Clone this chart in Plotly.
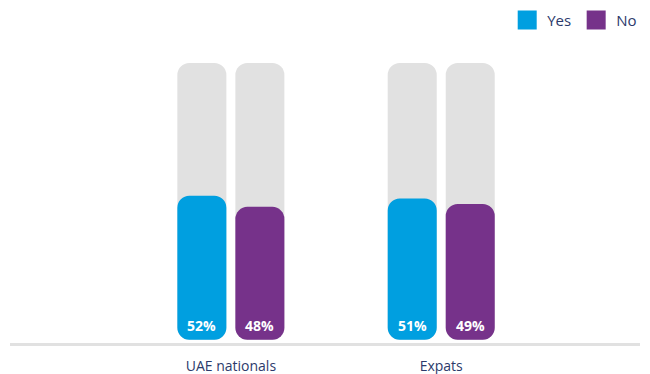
import plotly.graph_objects as go

groups = ["UAE nationals", "Expats"]
yes_pct = [52, 51]
no_pct = [48, 49]
full_scale = [100, 100]

BLUE = "#009fe0"
PURPLE = "#76328a"
TRACK = "#e1e1e1"
NAVY = "#2c3a6b"
FONT = "Open Sans"

bar_w = 0.233
half_gap = 0.0214
radius = 12

x_idx = list(range(len(groups)))
fig = go.Figure()


def rounded_bar(values, offset, color):
    # an explicit base makes plotly round both ends of the bar
    fig.add_trace(go.Bar(
        x=x_idx, y=values, base=[0] * len(values), width=bar_w, offset=offset,
        marker=dict(color=color, cornerradius=radius, line_width=0),
        showlegend=False, hoverinfo="skip"))


yes_off = -half_gap - bar_w
no_off = half_gap

# grey tracks
rounded_bar(full_scale, yes_off, TRACK)
rounded_bar(full_scale, no_off, TRACK)
# values
rounded_bar(yes_pct, yes_off, BLUE)
rounded_bar(no_pct, no_off, PURPLE)

# legend entries
for name, color in [("Yes", BLUE), ("No", PURPLE)]:
    fig.add_trace(go.Scatter(
        x=[None], y=[None], mode="markers", name=name,
        marker=dict(symbol="square", size=16, color=color,
                    line=dict(color=color, width=3))))

# value labels at the foot of each bar
for vals, off in [(yes_pct, yes_off), (no_pct, no_off)]:
    for i, v in enumerate(vals):
        fig.add_annotation(
            x=i + off + bar_w / 2, y=0, text=f"<b>{v}%</b>",
            showarrow=False, yanchor="bottom", yshift=3,
            font=dict(family=FONT, size=14, color="white"))

fig.update_layout(
    width=650, height=374,
    margin=dict(l=10, r=10, t=63, b=31, autoexpand=False),
    barmode="overlay",
    paper_bgcolor="white", plot_bgcolor="white",
    font=dict(family=FONT, color=NAVY, size=14),
    legend=dict(orientation="h", xref="container", x=0.988, xanchor="right",
                yref="container", y=0.946, yanchor="middle",
                font=dict(size=15, color=NAVY), itemwidth=30,
                traceorder="normal"),
    xaxis=dict(range=[-1.05, 1.945], tickvals=x_idx, ticktext=groups,
               showline=True, linecolor=TRACK, linewidth=3,
               showgrid=False, zeroline=False, ticks="",
               ticklabelstandoff=8,
               tickfont=dict(family=FONT, size=14, color=NAVY)),
    yaxis=dict(range=[-1.2, 100], visible=False, showgrid=False, zeroline=False),
)

fig.write_html("out.html")
